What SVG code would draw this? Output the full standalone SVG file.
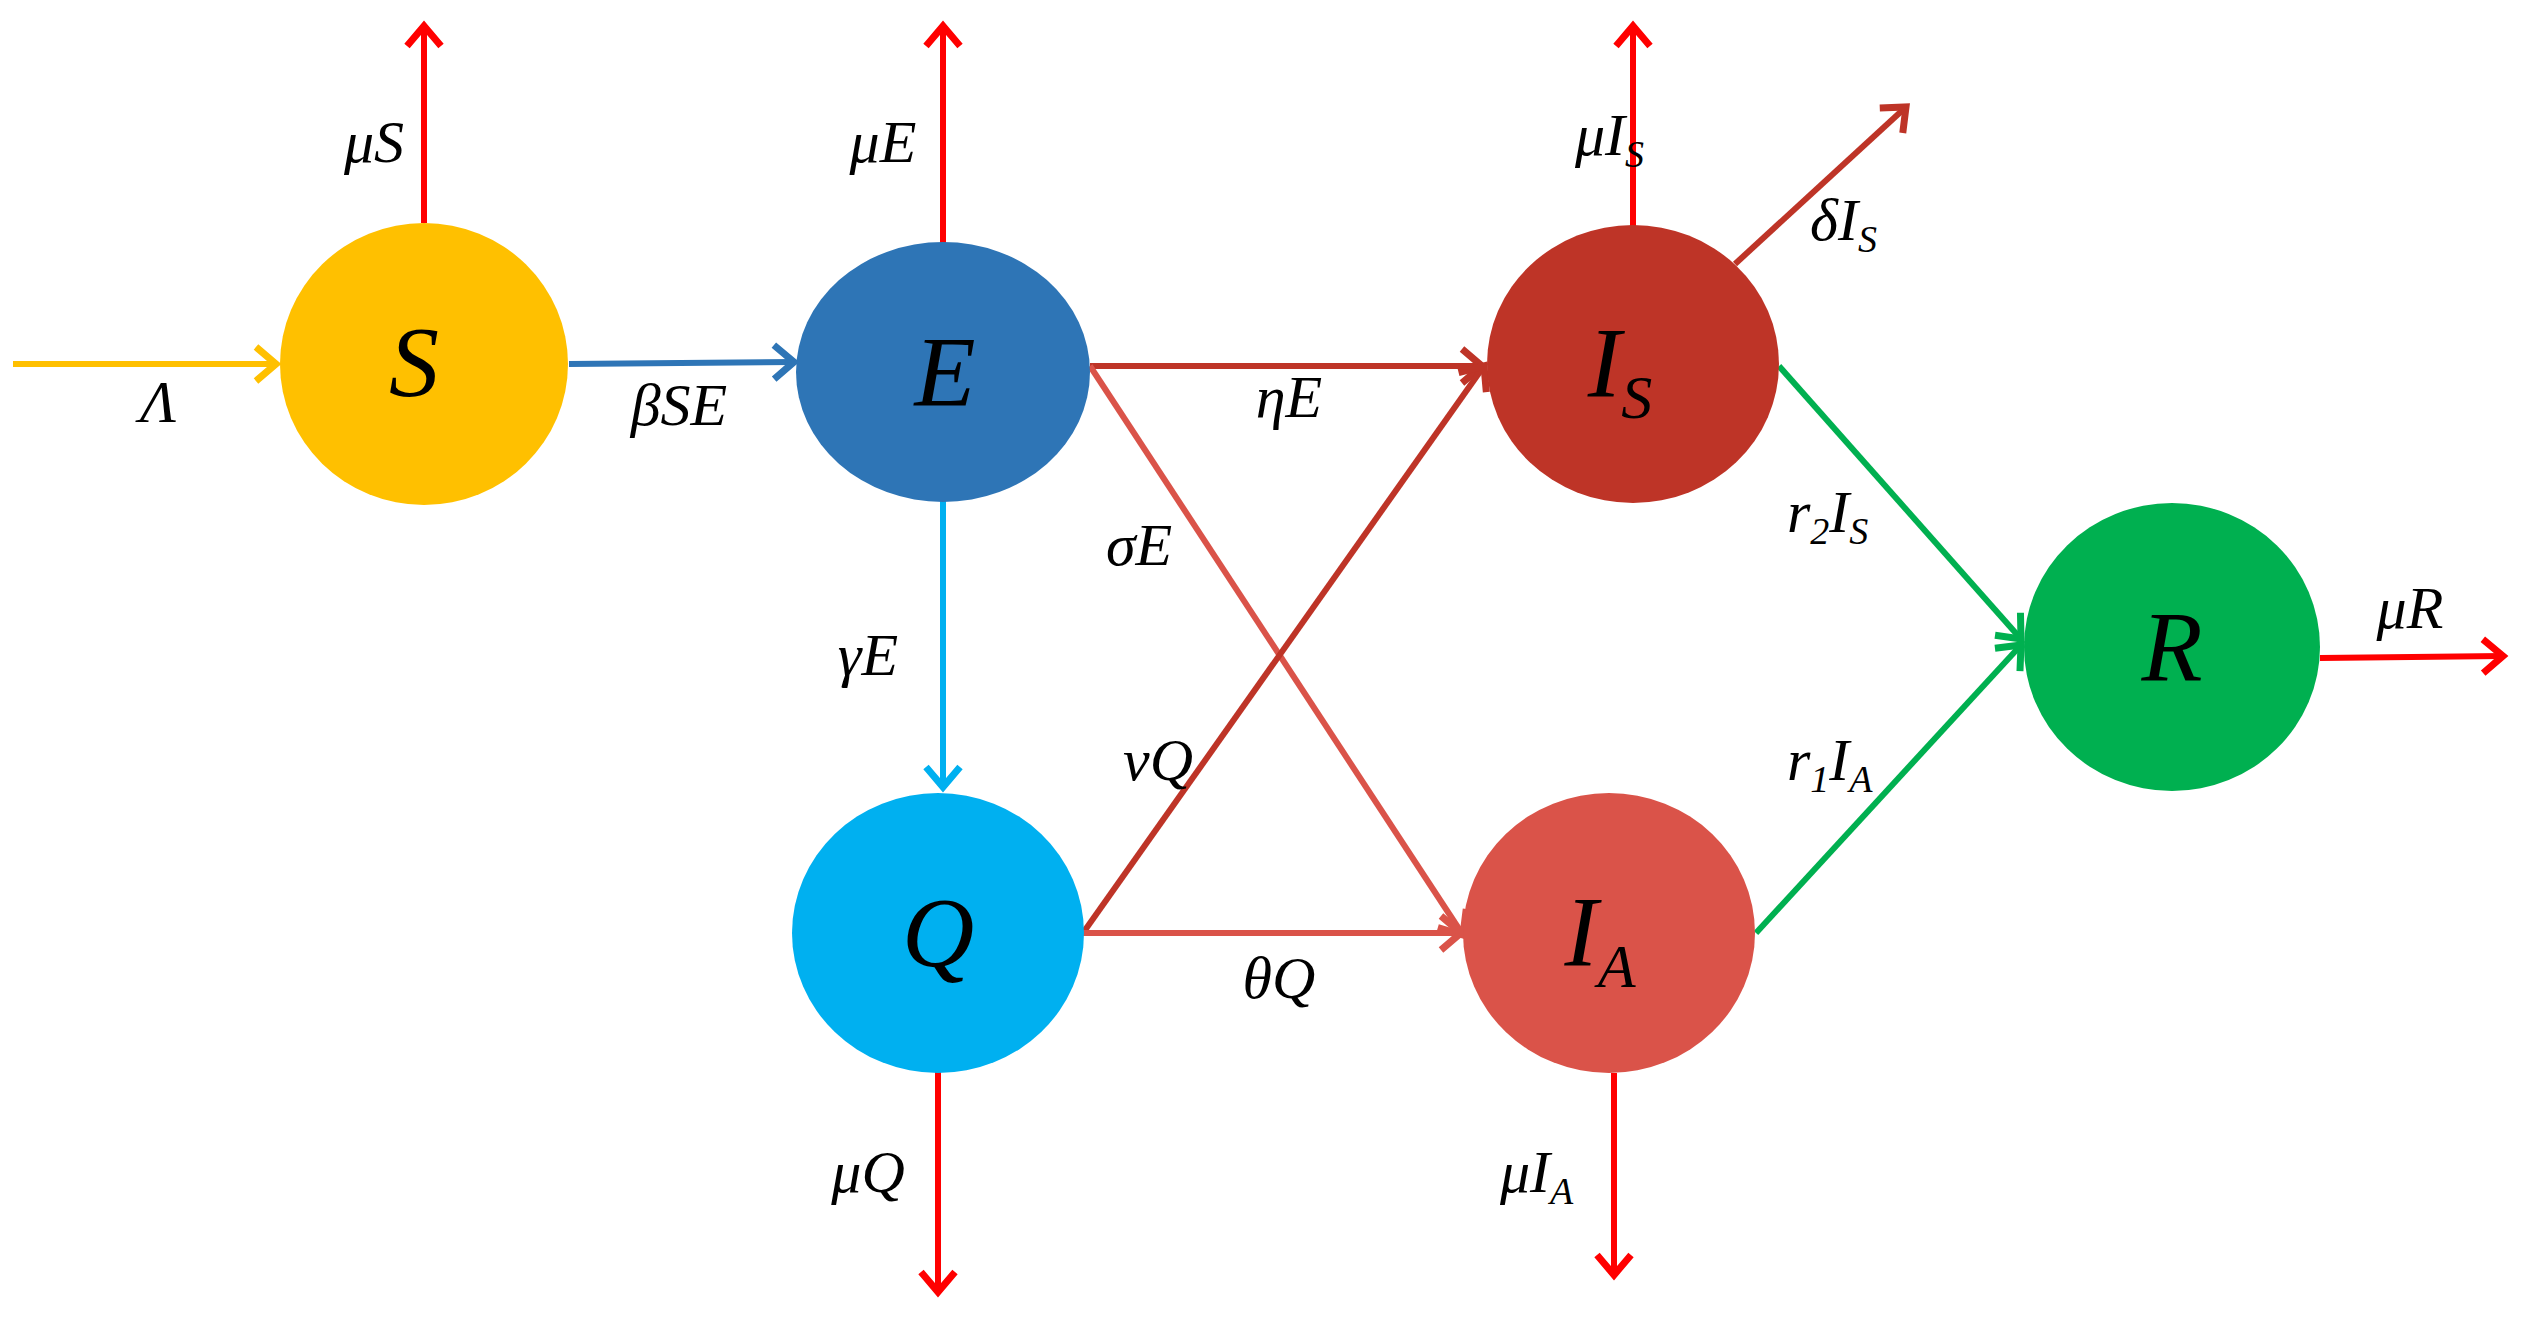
<svg xmlns="http://www.w3.org/2000/svg" width="2535" height="1320" viewBox="0 0 2535 1320">
<style>
.n{font-family:"Liberation Serif",serif;font-style:italic;font-size:100px;fill:#000}
.l{font-family:"Liberation Serif",serif;font-style:italic;font-size:60px;fill:#000}
.c{fill:none;stroke-width:6}
</style>
<defs>
<marker id="mY" markerUnits="userSpaceOnUse" markerWidth="40" markerHeight="40" orient="auto" overflow="visible"><path d="M-20,-17 L0,0 L-20,17" fill="none" stroke="#FFC000" stroke-width="7"/></marker>
<marker id="mB" markerUnits="userSpaceOnUse" markerWidth="40" markerHeight="40" orient="auto" overflow="visible"><path d="M-20,-17 L0,0 L-20,17" fill="none" stroke="#2E75B6" stroke-width="7"/></marker>
<marker id="mL" markerUnits="userSpaceOnUse" markerWidth="40" markerHeight="40" orient="auto" overflow="visible"><path d="M-20,-17 L0,0 L-20,17" fill="none" stroke="#00B0F0" stroke-width="7"/></marker>
<marker id="mD" markerUnits="userSpaceOnUse" markerWidth="40" markerHeight="40" orient="auto" overflow="visible"><path d="M-20,-17 L0,0 L-20,17" fill="none" stroke="#BE3427" stroke-width="7"/></marker>
<marker id="mP" markerUnits="userSpaceOnUse" markerWidth="40" markerHeight="40" orient="auto" overflow="visible"><path d="M-20,-17 L0,0 L-20,17" fill="none" stroke="#DA5349" stroke-width="7"/></marker>
<marker id="mG" markerUnits="userSpaceOnUse" markerWidth="40" markerHeight="40" orient="auto" overflow="visible"><path d="M-20,-17 L0,0 L-20,17" fill="none" stroke="#00B050" stroke-width="7"/></marker>
<marker id="mR" markerUnits="userSpaceOnUse" markerWidth="40" markerHeight="40" orient="auto" overflow="visible"><path d="M-20,-17 L0,0 L-20,17" fill="none" stroke="#FF0000" stroke-width="7"/></marker>
</defs>
<rect width="2535" height="1320" fill="#fff"/>
<g id="connectors">
<line class="c" x1="13" y1="364" x2="276" y2="364" stroke="#FFC000" marker-end="url(#mY)"/>
<line class="c" x1="424" y1="223" x2="424" y2="26" stroke="#FF0000" marker-end="url(#mR)"/>
<line class="c" x1="569" y1="364" x2="794" y2="362" stroke="#2E75B6" marker-end="url(#mB)"/>
<line class="c" x1="943" y1="243" x2="943" y2="26" stroke="#FF0000" marker-end="url(#mR)"/>
<line class="c" x1="1090" y1="366" x2="1482" y2="366" stroke="#BE3427" marker-end="url(#mD)"/>
<line class="c" x1="1090" y1="366" x2="1463" y2="935" stroke="#DA5349" marker-end="url(#mP)"/>
<line class="c" x1="943" y1="501" x2="943" y2="787" stroke="#00B0F0" marker-end="url(#mL)"/>
<line class="c" x1="1083" y1="933" x2="1484" y2="366" stroke="#BE3427" marker-end="url(#mD)"/>
<line class="c" x1="1083" y1="933" x2="1461" y2="933" stroke="#DA5349" marker-end="url(#mP)"/>
<line class="c" x1="938" y1="1072" x2="938" y2="1292" stroke="#FF0000" marker-end="url(#mR)"/>
<line class="c" x1="1633" y1="226" x2="1633" y2="26" stroke="#FF0000" marker-end="url(#mR)"/>
<line class="c" x1="1735" y1="264" x2="1906" y2="107" stroke="#BE3427" marker-end="url(#mD)"/>
<line class="c" x1="1779" y1="366" x2="2021" y2="639" stroke="#00B050" marker-end="url(#mG)"/>
<line class="c" x1="1756" y1="933" x2="2021" y2="645" stroke="#00B050" marker-end="url(#mG)"/>
<line class="c" x1="1614" y1="1073" x2="1614" y2="1275" stroke="#FF0000" marker-end="url(#mR)"/>
<line class="c" x1="2320" y1="658" x2="2503" y2="656" stroke="#FF0000" marker-end="url(#mR)"/>
</g>
<g id="S"><ellipse cx="424" cy="364" rx="144" ry="141" fill="#FFC000"/><text class="n" x="414" y="395" text-anchor="middle">S</text></g>
<g id="E"><ellipse cx="943" cy="372" rx="147" ry="130" fill="#2E75B6"/><text class="n" x="945" y="405" text-anchor="middle">E</text></g>
<g id="Q"><ellipse cx="938" cy="933" rx="146" ry="140" fill="#00B0F0"/><text class="n" x="938" y="966" text-anchor="middle">Q</text></g>
<g id="IS"><ellipse cx="1633" cy="364" rx="146" ry="139" fill="#BE3427"/><text class="n" x="1620" y="396" text-anchor="middle">I<tspan font-size="62" dy="22">S</tspan></text></g>
<g id="IA"><ellipse cx="1609" cy="933" rx="146" ry="140" fill="#DA5349"/><text class="n" x="1600" y="965" text-anchor="middle">I<tspan font-size="62" dy="22">A</tspan></text></g>
<g id="R"><ellipse cx="2172" cy="647" rx="148" ry="144" fill="#00B050"/><text class="n" x="2172" y="680" text-anchor="middle">R</text></g>
<g id="labels">
<text class="l" x="158" y="422" text-anchor="middle" font-style="normal">Λ</text>
<text class="l" x="374" y="162" text-anchor="middle">μS</text>
<text class="l" x="679" y="425" text-anchor="middle">βSE</text>
<text class="l" x="883" y="162" text-anchor="middle">μE</text>
<text class="l" x="1289" y="417" text-anchor="middle">ηE</text>
<text class="l" x="1139" y="565" text-anchor="middle">σE</text>
<text class="l" x="868" y="675" text-anchor="middle">γE</text>
<text class="l" x="1158" y="780" text-anchor="middle">νQ</text>
<text class="l" x="1279" y="998" text-anchor="middle">θQ</text>
<text class="l" x="868" y="1192" text-anchor="middle">μQ</text>
<text class="l" x="1575" y="155">μI<tspan font-size="38" dy="12">S</tspan></text>
<text class="l" x="1810" y="240">δI<tspan font-size="38" dy="12">S</tspan></text>
<text class="l" x="1787" y="532">r<tspan font-size="38" dy="12">2</tspan><tspan dy="-12">I</tspan><tspan font-size="38" dy="12">S</tspan></text>
<text class="l" x="1787" y="780">r<tspan font-size="38" dy="12">1</tspan><tspan dy="-12">I</tspan><tspan font-size="38" dy="12">A</tspan></text>
<text class="l" x="1500" y="1192">μI<tspan font-size="38" dy="12">A</tspan></text>
<text class="l" x="2410" y="628" text-anchor="middle">μR</text>
</g>
</svg>
